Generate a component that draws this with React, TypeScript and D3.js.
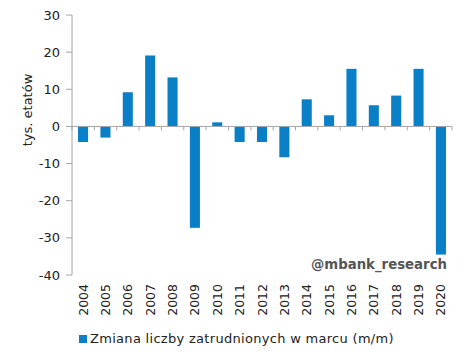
import React from 'react'
import * as d3 from 'd3'

const years = ['2004', '2005', '2006', '2007', '2008', '2009', '2010', '2011', '2012',
  '2013', '2014', '2015', '2016', '2017', '2018', '2019', '2020']
const values = [-4.2, -3.0, 9.2, 19.1, 13.2, -27.3, 1.1, -4.2, -4.2,
  -8.3, 7.3, 3.0, 15.5, 5.7, 8.3, 15.5, -34.5]
const yTicks = [30, 20, 10, 0, -10, -20, -30, -40]

const seriesName = 'Zmiana liczby zatrudnionych w marcu (m/m)'
const yLabel = 'tys. etatów'
const watermark = '@mbank_research'

const font = '"DejaVu Sans", Verdana, sans-serif'
const barColor = '#0a7fc6'
const axisColor = '#a6a6a6'

export default function App() {
  const width = 467
  const height = 359
  const left = 72
  const right = 452
  const top = 15
  const bottom = 275

  const x = d3.scaleBand().domain(years).range([left, right]).paddingInner(0.55).paddingOuter(0.27)
  const xTick = d3.scaleBand().domain(years).range([left, right])
  const y = d3.scaleLinear().domain([-40, 30]).range([bottom, top])

  return (
    <svg width={width} height={height} style={{ position: 'absolute', left: 0, top: 0, background: '#fff' }}>
      {/* bars */}
      {values.map((v, i) => (
        <rect
          key={years[i]}
          x={x(years[i])}
          width={x.bandwidth()}
          y={y(Math.max(0, v))}
          height={Math.abs(y(v) - y(0))}
          fill={barColor}
        />
      ))}

      {/* y axis */}
      <line x1={left} x2={left} y1={top} y2={bottom} stroke={axisColor} />
      {yTicks.map(t => (
        <g key={t}>
          <line x1={left - 6} x2={left} y1={y(t)} y2={y(t)} stroke={axisColor} />
          <text x={left - 12} y={y(t)} dy="0.35em" textAnchor="end" fontFamily={font} fontSize={13} fill="#222">
            {t}
          </text>
        </g>
      ))}

      {/* zero line with ticks */}
      <line x1={left} x2={right} y1={y(0)} y2={y(0)} stroke={axisColor} />
      {years.map(yr => (
        <line
          key={yr}
          x1={xTick(yr) as number}
          x2={xTick(yr) as number}
          y1={y(0)}
          y2={y(0) + 4}
          stroke={axisColor}
        />
      ))}
      <line x1={right} x2={right} y1={y(0)} y2={y(0) + 4} stroke={axisColor} />

      {/* year labels */}
      {years.map(yr => {
        const cx = (x(yr) as number) + x.bandwidth() / 2
        return (
          <text
            key={yr}
            transform={`translate(${cx + 4.5},284) rotate(-90)`}
            textAnchor="end"
            fontFamily={font}
            fontSize={12.5}
            fill="#222"
          >
            {yr}
          </text>
        )
      })}

      {/* y label */}
      <text
        transform={`translate(32,110) rotate(-90)`}
        textAnchor="middle"
        fontFamily={font}
        fontSize={13}
        fill="#222"
      >
        {yLabel}
      </text>

      {/* watermark */}
      <text x={447} y={269} textAnchor="end" fontFamily={font} fontSize={13.3} fontWeight="bold" fill="#555">
        {watermark}
      </text>

      {/* legend */}
      <rect x={79} y={335} width={8} height={8} fill={barColor} />
      <text x={90} y={343} fontFamily={font} fontSize={13} letterSpacing={0.3} fill="#222">
        {seriesName}
      </text>
    </svg>
  )
}
